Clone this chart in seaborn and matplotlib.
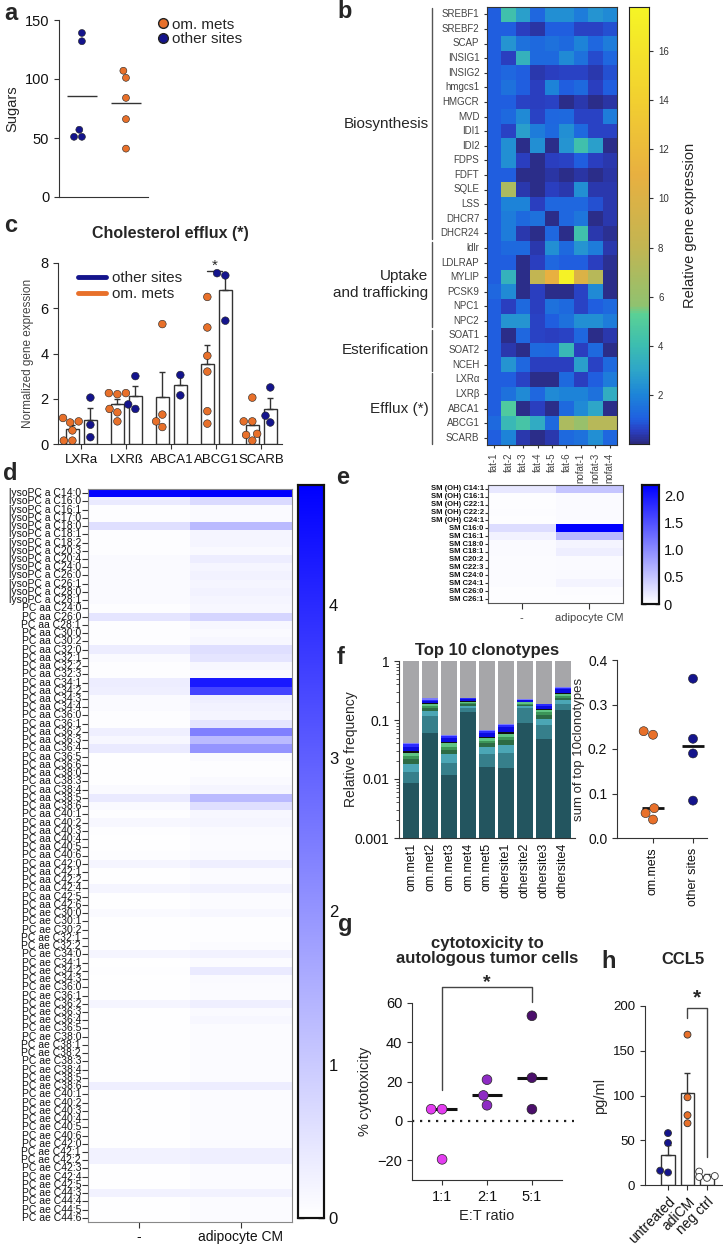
import numpy as np
import pandas as pd
import matplotlib
matplotlib.use('Agg')
import matplotlib.pyplot as plt
import matplotlib.transforms as mtransforms
from matplotlib.colors import LinearSegmentedColormap
from matplotlib.lines import Line2D
import seaborn as sns

W, H = 723, 1249
ORANGE = '#E8702A'
NAVY = '#14148C'

# a: sugars
sugar_other = [139, 132, 57, 51, 51]
sugar_om = [107, 101, 84, 66, 41]

# b: cholesterol metabolism genes, relative expression
b_genes = ['SREBF1', 'SREBF2', 'SCAP', 'INSIG1', 'INSIG2', 'hmgcs1', 'HMGCR', 'MVD', 'IDI1', 'IDI2',
           'FDPS', 'FDFT', 'SQLE', 'LSS', 'DHCR7', 'DHCR24', 'ldlr', 'LDLRAP', 'MYLIP', 'PCSK9',
           'NPC1', 'NPC2', 'SOAT1', 'SOAT2', 'NCEH', 'LXRα', 'LXRβ', 'ABCA1', 'ABCG1', 'SCARB']
b_samples = ['fat-1', 'fat-2', 'fat-3', 'fat-4', 'fat-5', 'fat-6', 'nofat-1', 'nofat-3', 'nofat-4']
b_values = [
    [1, 4.2, 2.8, 1.2, 2.3, 2.3, 1.8, 2.5, 2.2],
    [1, 1, 0.5, 0.3, 1, 1, 0.6, 0.6, 0.8],
    [1, 2.5, 1.5, 1.3, 1.5, 1.3, 2, 1.2, 1.8],
    [1, 0.5, 3.5, 1.3, 1.3, 2.2, 1.5, 0.7, 1.2],
    [1, 1.2, 1, 0.4, 0.5, 0.6, 0.6, 0.4, 0.8],
    [1, 1.5, 1.0, 0.5, 2, 1.0, 1.3, 0.5, 1],
    [1, 1, 0.6, 0.5, 0.6, 0.1, 0.4, 0.1, 0.3],
    [1, 1.3, 2.2, 0.6, 1.2, 1.3, 0.6, 0.6, 1.8],
    [1, 0.6, 2.8, 1.8, 1.3, 2.3, 1.3, 0.6, 0.6],
    [1, 2.3, 0.1, 2.3, 0.1, 2.5, 4.2, 2.8, 0.1],
    [1, 2.3, 0.5, 0.1, 0.5, 0.6, 1, 0.5, 0.4],
    [1, 1, 0.1, 0.1, 0.3, 0.1, 0.3, 0.1, 0.3],
    [1, 7, 0.4, 0.1, 0.5, 0.4, 2.3, 0.4, 0.4],
    [1, 2, 2, 0.5, 1.2, 1.2, 1.2, 0.8, 0.4],
    [1, 1.8, 1.3, 1.5, 0.1, 1.2, 1.6, 0.1, 0.4],
    [1, 1.8, 0.4, 0.1, 1.2, 0.1, 4.2, 0.4, 0.2],
    [1, 1.3, 1.3, 0.4, 2.3, 1.3, 2.5, 1.8, 0.4],
    [1, 1, 0.1, 0.5, 1.2, 1, 1, 0.5, 0.2],
    [1, 3.5, 0.1, 8, 11, 17.5, 10, 7.5, 0.1],
    [1.2, 2.2, 0.1, 0.5, 0.1, 0.1, 0.6, 2.2, 0.1],
    [1, 0.5, 1.3, 0.5, 1.5, 1.3, 0.6, 1, 1.3],
    [1, 2.5, 2.5, 0.6, 1, 1.5, 2.3, 2.3, 1.8],
    [1, 0.1, 1.2, 0.6, 0.5, 0.6, 1.2, 0.1, 0.4],
    [1, 0.4, 0.1, 1.3, 1.2, 3.8, 0.5, 1.3, 0.1],
    [1, 2.5, 1.2, 0.5, 0.5, 0.5, 2.8, 0.6, 1.3],
    [1, 1, 0.6, 0.1, 0.1, 1.3, 0.5, 1, 1.8],
    [1, 1.5, 2.2, 1.2, 2.2, 2, 2, 1.5, 3.3],
    [1, 4.8, 0.1, 0.5, 0.1, 1.3, 2.2, 3, 0.1],
    [1.3, 3.8, 4.5, 3.2, 1.3, 7, 6, 7.5, 7.5],
    [1, 2, 0.4, 0.1, 0.4, 1.3, 1.5, 2.3, 1.2],
]
b_groups = [('Biosynthesis', 0, 15), ('Uptake\nand trafficking', 16, 21),
            ('Esterification', 22, 24), ('Efflux (*)', 25, 29)]

# c: cholesterol efflux genes
c_genes = ['LXRa', 'LXRß', 'ABCA1', 'ABCG1', 'SCARB']
c_om = [[1.15, 1.0, 0.95, 0.6, 0.15, 0.15],
        [2.25, 2.2, 2.25, 1.55, 1.4, 1.0],
        [5.3, 1.3, 1.0, 0.75],
        [6.5, 5.15, 3.9, 3.2, 1.45, 0.9],
        [2.05, 1.0, 1.0, 0.45, 0.4, 0.15]]
c_other = [[2.05, 0.85, 0.3],
           [3.0, 1.55, 1.75],
           [3.05, 2.15],
           [7.55, 7.45, 5.45],
           [2.5, 1.25, 0.95]]

# d: phosphatidylcholines
lyso_species = ['C14:0', 'C16:0', 'C16:1', 'C17:0', 'C18:0', 'C18:1', 'C18:2', 'C20:3', 'C20:4',
                'C24:0', 'C26:0', 'C26:1', 'C28:0', 'C28:1']
pcaa_species = ['C24:0', 'C26:0', 'C28:1', 'C30:0', 'C30:2', 'C32:0', 'C32:1', 'C32:2', 'C32:3',
                'C34:1', 'C34:2', 'C34:3', 'C34:4', 'C36:0', 'C36:1', 'C36:2', 'C36:3', 'C36:4',
                'C36:5', 'C36:6', 'C38:0', 'C38:3', 'C38:4', 'C38:5', 'C38:6', 'C40:1', 'C40:2',
                'C40:3', 'C40:4', 'C40:5', 'C40:6', 'C42:0', 'C42:1', 'C42:2', 'C42:4', 'C42:5',
                'C42:6']
pcae_species = ['C30:0', 'C30:1', 'C30:2', 'C32:1', 'C32:2', 'C34:0', 'C34:1', 'C34:2', 'C34:3',
                'C36:0', 'C36:1', 'C36:2', 'C36:3', 'C36:4', 'C36:5', 'C38:0', 'C38:1', 'C38:2',
                'C38:3', 'C38:4', 'C38:5', 'C38:6', 'C40:1', 'C40:2', 'C40:3', 'C40:4', 'C40:5',
                'C40:6', 'C42:0', 'C42:1', 'C42:2', 'C42:3', 'C42:4', 'C42:5', 'C44:3', 'C44:4',
                'C44:5', 'C44:6']
d_lipids = (['lysoPC a ' + s for s in lyso_species] + ['PC aa ' + s for s in pcaa_species]
            + ['PC ae ' + s for s in pcae_species])
d_ctrl = [4.78, 0.4, 0.05, 0.05, 0.6, 0.05, 0.05, 0.05, 0.1, 0.1,
          0.1, 0.1, 0.1, 0.1, 0.05, 0.5, 0.05, 0.05, 0.05, 0.35,
          0.1, 0.05, 0.05, 0.35, 0.3, 0.1, 0.1, 0.05, 0.05, 0.3,
          0.15, 0.4, 0.03, 0.02, 0.02, 0.02, 0.1, 0.4, 0.1, 0.05,
          0.15, 0.05, 0.03, 0.03, 0.05, 0.2, 0.03, 0.03, 0.2, 0.03,
          0.03, 0.1, 0.03, 0.03, 0.03, 0.03, 0.2, 0.03, 0.05, 0.03,
          0.03, 0.03, 0.2, 0.03, 0.03, 0.03, 0.03, 0.03, 0.03, 0.03,
          0.03, 0.03, 0.3, 0.03, 0.03, 0.03, 0.03, 0.03, 0.03, 0.03,
          0.25, 0.25, 0.03, 0.03, 0.03, 0.25, 0.03, 0.03, 0.03]
d_cm = [4.78, 0.7, 0.1, 0.1, 1.3, 0.2, 0.2, 0.12, 0.35, 0.2,
        0.25, 0.2, 0.25, 0.2, 0.15, 0.8, 0.15, 0.1, 0.15, 0.6,
        0.5, 0.15, 0.1, 4.3, 3.5, 0.3, 0.25, 0.2, 0.5, 2.4,
        1.3, 2.0, 0.1, 0.05, 0.05, 0.1, 0.2, 1.3, 0.6, 0.15,
        0.2, 0.1, 0.08, 0.08, 0.1, 0.3, 0.08, 0.08, 0.25, 0.08,
        0.08, 0.15, 0.05, 0.05, 0.05, 0.08, 0.25, 0.08, 0.4, 0.1,
        0.08, 0.08, 0.3, 0.1, 0.15, 0.08, 0.08, 0.08, 0.08, 0.08,
        0.08, 0.08, 0.35, 0.08, 0.08, 0.08, 0.08, 0.08, 0.08, 0.08,
        0.3, 0.3, 0.08, 0.08, 0.08, 0.25, 0.08, 0.08, 0.08]

# e: sphingomyelins
e_lipids = ['SM (OH) C14:1', 'SM (OH) C16:1', 'SM (OH) C22:1', 'SM (OH) C22:2', 'SM (OH) C24:1',
            'SM C16:0', 'SM C16:1', 'SM C18:0', 'SM C18:1', 'SM C20:2', 'SM C22:3', 'SM C24:0',
            'SM C24:1', 'SM C26:0', 'SM C26:1']
e_ctrl = [0.2, 0.02, 0.02, 0.03, 0.02, 0.3, 0.12, 0.05, 0.05, 0.04, 0.04, 0.04, 0.04, 0.02, 0.02]
e_cm = [0.5, 0.05, 0.05, 0.05, 0.05, 2.2, 0.6, 0.1, 0.15, 0.05, 0.05, 0.05, 0.1, 0.03, 0.02]

# f: top 10 clonotype frequencies, clone 1 (largest) to clone 10
f_samples = ['om.met1', 'om.met2', 'om.met3', 'om.met4', 'om.met5',
             'othersite1', 'othersite2', 'othersite3', 'othersite4']
f_site = ['om.mets'] * 5 + ['other sites'] * 4
f_freq = [
    [0.0085, 0.0045, 0.005, 0.004, 0.003, 0.003, 0.0015, 0.006, 0.004, 0.002],
    [0.06, 0.055, 0.025, 0.02, 0.015, 0.015, 0.005, 0.015, 0.01, 0.012],
    [0.0115, 0.0075, 0.008, 0.004, 0.004, 0.005, 0.002, 0.008, 0.004, 0.002],
    [0.135, 0.025, 0.015, 0.01, 0.01, 0.01, 0.005, 0.015, 0.01, 0.005],
    [0.016, 0.011, 0.008, 0.005, 0.004, 0.006, 0.002, 0.008, 0.005, 0.002],
    [0.0155, 0.0125, 0.01, 0.007, 0.007, 0.006, 0.004, 0.013, 0.006, 0.003],
    [0.09, 0.07, 0.01, 0.01, 0.01, 0.01, 0.005, 0.01, 0.005, 0.003],
    [0.048, 0.034, 0.023, 0.015, 0.015, 0.015, 0.005, 0.02, 0.01, 0.005],
    [0.15, 0.04, 0.025, 0.025, 0.02, 0.02, 0.01, 0.04, 0.02, 0.008],
]
clone_colors = ['#23555F', '#367F8B', '#4BA6B5', '#2C6B45', '#3C9558', '#5FC483',
                '#111111', '#0A0AE0', '#2B2BFF', '#7A7AFF']

# g: cytotoxicity
g_ratios = ['1:1', '2:1', '5:1']
g_values = [[6, 6, -19.5], [21, 13, 8], [53.5, 22, 6]]
g_colors = ['#E33CF0', '#8E2BC4', '#4B0F6B']

# h: CCL5
h_groups = ['untreated', 'adiCM', 'neg ctrl']
h_values = [[58, 47, 16, 14], [168, 98, 78, 69], [15, 10, 9, 8]]

sns.set_style('ticks')
plt.rcParams['font.family'] = ['Liberation Sans', 'DejaVu Sans']
plt.rcParams['axes.edgecolor'] = '#333333'
plt.rcParams['xtick.color'] = '#333333'
plt.rcParams['ytick.color'] = '#333333'
plt.rcParams['xtick.labelcolor'] = '#111111'
plt.rcParams['ytick.labelcolor'] = '#111111'

fig = plt.figure(figsize=(W / 100, H / 100), dpi=100)


def px_axes(l, t, r, b):
    return fig.add_axes([l / W, 1 - b / H, (r - l) / W, (b - t) / H])


def letter(x, y, s):
    fig.text(x / W, 1 - y / H, s, fontsize=17, fontweight='bold', ha='center', va='center')


# ---------- a
ax = px_axes(59, 20, 148, 197)
df_a = pd.DataFrame({'site': ['other sites'] * len(sugar_other) + ['om. mets'] * len(sugar_om),
                     'sugars': sugar_other + sugar_om})
order_a = ['other sites', 'om. mets']
pal = {'other sites': NAVY, 'om. mets': ORANGE}
sns.swarmplot(data=df_a, x='site', y='sugars', hue='site', order=order_a, palette=pal,
              size=5, edgecolor='#222222', linewidth=0.4, legend=False, ax=ax)
means_a = df_a.groupby('site')['sugars'].mean()
for i, s in enumerate(order_a):
    ax.hlines(means_a[s], i - 0.34, i + 0.34, color='#333333', lw=1)
ax.set_xlim(-0.52, 1.5)
ax.set_ylim(0, 150)
ax.set_yticks([0, 50, 100, 150])
ax.set_xticks([])
ax.set_xlabel('')
ax.set_ylabel('Sugars', fontsize=10.5)
ax.tick_params(labelsize=10.5)
sns.despine(ax=ax)
handles = [Line2D([], [], marker='o', ls='', color=ORANGE, markeredgecolor='#222', markersize=7, label='om. mets'),
           Line2D([], [], marker='o', ls='', color=NAVY, markeredgecolor='#222', markersize=7, label='other sites')]
fig.legend(handles=handles, loc='upper left', bbox_to_anchor=(148 / W, 1 - 10 / H), frameon=False,
           fontsize=11, handletextpad=0.1, labelspacing=0.05, handlelength=1, borderpad=0)

# ---------- b
parula_pts = [(0.0, '#2B2A80'), (0.5, '#2A3EC0'), (1.0, '#1F60E0'), (2.0, '#1D85D8'),
              (3.0, '#2EA6C8'), (4.0, '#3CBDB0'), (5.3, '#5BD195'), (5.6, '#8FC270'),
              (8.0, '#C2B552'), (11.0, '#E8B040'), (14.0, '#F2CF30'), (17.8, '#F5F525')]
parula = LinearSegmentedColormap.from_list('parula_like', [(v / 17.8, c) for v, c in parula_pts])
ax = px_axes(487, 7, 617, 445)
cax = px_axes(629, 7, 649, 444)
df_b = pd.DataFrame(b_values, index=b_genes, columns=b_samples)
sns.heatmap(df_b, ax=ax, cbar_ax=cax, cmap=parula, vmin=0, vmax=17.8,
            xticklabels=True, yticklabels=True)
ax.tick_params(axis='both', labelsize=7, length=2, labelcolor='#444444')
ax.set_yticklabels(b_genes, rotation=0)
ax.set_xticklabels(b_samples, rotation=90)
for s in ax.spines.values():
    s.set_visible(True)
    s.set_color('#333333')
cax.set_yticks(range(2, 17, 2))
cax.tick_params(labelsize=7, length=3, labelcolor='#333333')
cax.set_ylabel('Relative gene expression', fontsize=10.5, labelpad=10)
for s in cax.spines.values():
    s.set_visible(True)
    s.set_color('#222222')
trans = mtransforms.blended_transform_factory(ax.transAxes, ax.transData)
for name, r0, r1 in b_groups:
    ax.plot([-0.423, -0.423], [r0 + 0.1, r1 + 0.9], transform=trans, clip_on=False,
            color='#555555', lw=1)
    ax.text(-0.45, (r0 + r1 + 1) / 2, name, transform=trans, ha='right', va='center',
            fontsize=11, multialignment='right')

# ---------- c
ax = px_axes(58, 263, 282, 444)
rows = []
for g, om, ot in zip(c_genes, c_om, c_other):
    rows += [(g, 'om. mets', v) for v in om] + [(g, 'other sites', v) for v in ot]
df_c = pd.DataFrame(rows, columns=['gene', 'site', 'value'])
hue_c = ['om. mets', 'other sites']
sns.barplot(data=df_c, x='gene', y='value', hue='site', order=c_genes, hue_order=hue_c,
            palette={'om. mets': 'white', 'other sites': 'white'}, errorbar=None, saturation=1,
            edgecolor='#333333', linewidth=1, width=0.8, gap=0.28, legend=False, ax=ax)
sns.swarmplot(data=df_c, x='gene', y='value', hue='site', order=c_genes, hue_order=hue_c,
              palette=pal, dodge=True, size=5.5, edgecolor='#222222',
              linewidth=0.4, legend=False, ax=ax)
stats_c = df_c.groupby(['gene', 'site'])['value'].agg(['mean', 'sem'])
for i, g in enumerate(c_genes):
    for j, s in enumerate(hue_c):
        m, e = stats_c.loc[(g, s)]
        ax.errorbar(i - 0.2 + 0.4 * j, m, yerr=[[0], [e]], color='#333333', capsize=2.5,
                    lw=1, capthick=1)
ax.plot([2.8, 3.12], [7.65, 7.65], color='#333333', lw=1)
ax.text(2.96, 7.55, '*', ha='center', va='bottom', fontsize=11)
ax.set_xlim(-0.52, 4.46)
ax.set_ylim(0, 8)
ax.set_yticks([0, 2, 4, 6, 8])
ax.set_xlabel('')
ax.set_ylabel('Normalized gene expression', fontsize=8.5, color='#444444')
ax.tick_params(axis='y', labelsize=10.5)
ax.tick_params(axis='x', labelsize=9.5)
ax.set_title('Cholesterol efflux (*)', fontsize=11.5, fontweight='bold', pad=18)
sns.despine(ax=ax)
leg_c = [Line2D([], [], color=NAVY, lw=3.5, label='other sites'),
         Line2D([], [], color=ORANGE, lw=3.5, label='om. mets')]
ax.legend(handles=leg_c, loc='upper left', bbox_to_anchor=(0.03, 1.03), frameon=False,
          fontsize=11, handlelength=1.8, handletextpad=0.4, labelspacing=0.1)

# ---------- d
white_blue = LinearSegmentedColormap.from_list('wb', ['#FFFFFF', '#0000FF'])
ax = px_axes(88, 489, 292, 1222)
cax = px_axes(298, 485, 324, 1218)
df_d = pd.DataFrame({'-': d_ctrl, 'adipocyte CM': d_cm}, index=d_lipids)
sns.heatmap(df_d, ax=ax, cbar_ax=cax, cmap=white_blue, vmin=0, vmax=4.78,
            xticklabels=True, yticklabels=True)
ax.set_yticklabels(d_lipids, rotation=0, fontsize=7.5)
ax.set_xticklabels(['-', 'adipocyte CM'], rotation=0, fontsize=10)
ax.tick_params(axis='y', length=4, width=0.8, pad=1)
ax.tick_params(axis='x', length=4, pad=2)
for s in ax.spines.values():
    s.set_visible(True)
    s.set_color('#888888')
cax.set_yticks([0, 1, 2, 3, 4])
cax.tick_params(labelsize=12, direction='in', left=True, right=True, length=4, width=1)
for s in cax.spines.values():
    s.set_visible(True)
    s.set_color('#111111')
    s.set_linewidth(1.5)

# ---------- e
ax = px_axes(488, 485, 623, 603)
cax = px_axes(642, 485, 659, 604)
df_e = pd.DataFrame({'-': e_ctrl, 'adipocyte CM': e_cm}, index=e_lipids)
sns.heatmap(df_e, ax=ax, cbar_ax=cax, cmap=white_blue, vmin=0, vmax=2.2,
            xticklabels=True, yticklabels=True)
ax.set_yticklabels(e_lipids, rotation=0, fontsize=5.5, fontweight='bold')
ax.set_xticklabels(['-', 'adipocyte CM'], rotation=0, fontsize=8, color='#444444')
ax.tick_params(axis='y', length=2, pad=1)
ax.tick_params(axis='x', length=4)
for s in ax.spines.values():
    s.set_visible(True)
    s.set_color('#555555')
cax.set_yticks([0, 0.5, 1.0, 1.5, 2.0])
cax.set_yticklabels(['0', '0.5', '1.0', '1.5', '2.0'])
cax.tick_params(labelsize=10.5, direction='in', left=True, right=True, length=3, width=1)
for s in cax.spines.values():
    s.set_visible(True)
    s.set_color('#111111')
    s.set_linewidth(1.5)

# ---------- f (stacked clonotype frequencies)
ax = px_axes(399, 661, 575, 838)
freq = np.array(f_freq)
cum = np.cumsum(freq, axis=1)
sns.barplot(x=f_samples, y=[1] * len(f_samples), color='#A6A6A9', saturation=1, width=0.83,
            linewidth=0, ax=ax)
for k in range(freq.shape[1] - 1, -1, -1):
    sns.barplot(x=f_samples, y=cum[:, k], color=clone_colors[k], saturation=1, width=0.83,
                linewidth=0, ax=ax)
ax.set_yscale('log')
ax.set_ylim(0.001, 1)
ax.set_xlim(-0.65, 8.65)
ax.set_yticks([0.001, 0.01, 0.1, 1])
ax.set_yticklabels(['0.001', '0.01', '0.1', '1'])
ax.tick_params(axis='y', labelsize=10)
ax.tick_params(axis='x', labelsize=9, rotation=90, length=0)
ax.set_ylabel('Relative frequency', fontsize=10)
ax.yaxis.set_label_coords(-0.235, 0.5)
ax.set_title('Top 10 clonotypes', fontsize=12, fontweight='bold', pad=4)
sns.despine(ax=ax)

ax = px_axes(617, 660, 707, 838)
df_f = pd.DataFrame({'site': f_site, 'sum': freq.sum(axis=1)})
order_f = ['om.mets', 'other sites']
sns.swarmplot(data=df_f, x='site', y='sum', hue='site', order=order_f,
              palette={'om.mets': ORANGE, 'other sites': NAVY}, size=6.5, edgecolor='#222222',
              linewidth=0.4, legend=False, ax=ax)
med_f = df_f.groupby('site')['sum'].median()
for i, s in enumerate(order_f):
    ax.hlines(med_f[s], i - 0.28, i + 0.28, color='#111111', lw=2)
ax.set_xlim(-0.9, 1.35)
ax.set_ylim(0, 0.4)
ax.set_yticks([0, 0.1, 0.2, 0.3, 0.4])
ax.set_yticklabels(['0.0', '0.1', '0.2', '0.3', '0.4'])
ax.tick_params(axis='y', labelsize=10)
ax.tick_params(axis='x', labelsize=9, rotation=90)
ax.set_xlabel('')
ax.set_ylabel('sum of top 10clonotypes', fontsize=9.5)
ax.yaxis.set_label_coords(-0.36, 0.5)
sns.despine(ax=ax)

# ---------- g
ax = px_axes(412, 1003, 562, 1180)
df_g = pd.DataFrame([(r, v) for r, vals in zip(g_ratios, g_values) for v in vals],
                    columns=['ratio', 'cyto'])
sns.swarmplot(data=df_g, x='ratio', y='cyto', hue='ratio', order=g_ratios,
              palette=dict(zip(g_ratios, g_colors)), size=7, edgecolor='#222222', linewidth=0.5,
              legend=False, ax=ax)
med_g = df_g.groupby('ratio')['cyto'].median()
for i, r in enumerate(g_ratios):
    ax.hlines(med_g[r], i - 0.33, i + 0.33, color='#111111', lw=2.2)
ax.axhline(0, color='#222222', ls=(0, (1, 2.6)), lw=1.6, xmax=1.08, clip_on=False)
ax.plot([0, 0, 2, 2], [15.7, 68, 68, 60.5], color='#444444', lw=1, clip_on=False)
ax.text(1, 66, '*', ha='center', va='bottom', fontsize=14, fontweight='bold')
ax.set_xlim(-0.67, 2.67)
ax.set_ylim(-30, 60)
ax.set_yticks([-20, 0, 20, 40, 60])
ax.tick_params(labelsize=10.5)
ax.set_xlabel('E:T ratio', fontsize=10.5)
ax.set_ylabel('% cytotoxicity', fontsize=10.5)
ax.set_title('cytotoxicity to\nautologous tumor cells', fontsize=12, fontweight='bold', pad=29,
             linespacing=1.0)
sns.despine(ax=ax)

# ---------- h
ax = px_axes(645, 1006, 722, 1185)
df_h = pd.DataFrame([(g, v) for g, vals in zip(h_groups, h_values) for v in vals],
                    columns=['group', 'pg'])
sns.barplot(data=df_h, x='group', y='pg', order=h_groups, color='white', saturation=1,
            errorbar=None, edgecolor='#333333', linewidth=1, width=0.67, ax=ax)
sns.swarmplot(data=df_h, x='group', y='pg', hue='group', order=h_groups,
              palette={'untreated': NAVY, 'adiCM': ORANGE, 'neg ctrl': 'white'}, size=5,
              edgecolor='#333333', linewidth=0.6, legend=False, ax=ax)
stats_h = df_h.groupby('group')['pg'].agg(['mean', 'sem'])
for i, g in enumerate(h_groups):
    ax.errorbar(i, stats_h.loc[g, 'mean'], yerr=[[0], [stats_h.loc[g, 'sem']]], color='#333333',
                capsize=2.5, lw=1)
ax.plot([1, 1, 2, 2], [187, 198, 198, 31], color='#444444', lw=1, clip_on=False)
ax.text(1.5, 199, '*', ha='center', va='bottom', fontsize=15, fontweight='bold')
ax.set_xlim(-1.18, 2.77)
ax.set_ylim(0, 200)
ax.set_yticks([0, 50, 100, 150, 200])
ax.tick_params(axis='y', labelsize=9.5)
ax.set_xticks(range(3))
ax.set_xticklabels(h_groups, rotation=45, ha='right', rotation_mode='anchor', fontsize=10)
ax.set_xlabel('')
ax.set_ylabel('pg/ml', fontsize=10.5)
ax.set_title('CCL5', fontsize=12, fontweight='bold', pad=30)
sns.despine(ax=ax)

letter(11, 13, 'a')
letter(345, 11, 'b')
letter(11, 226, 'c')
letter(10, 474, 'd')
letter(343, 477, 'e')
letter(341, 658, 'f')
letter(345, 925, 'g')
letter(609, 962, 'h')

fig.savefig('out.png', dpi=100)
